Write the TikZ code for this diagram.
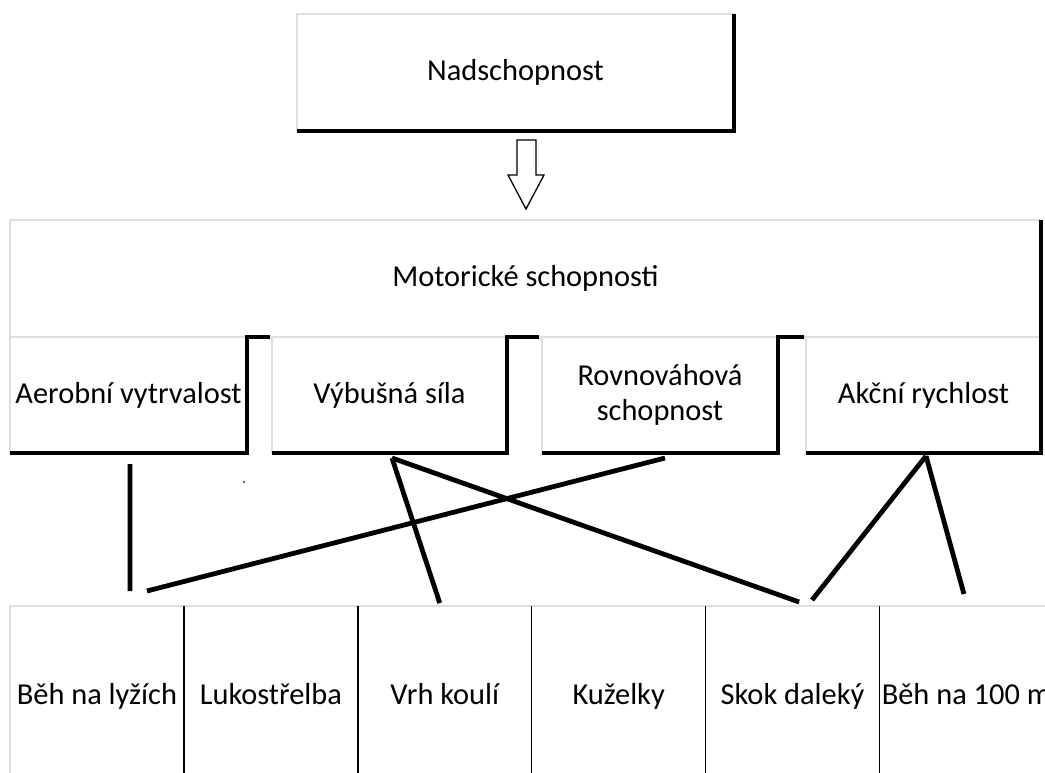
\documentclass[tikz,border=0pt]{standalone}
\usepackage{fontspec}
\setmainfont{Carlito}
\usetikzlibrary{positioning}

\begin{document}
\begin{tikzpicture}[
    x=1pt, y=-1pt,
    box/.style={
        rectangle, inner sep=0pt, outer sep=0pt,
        draw=gray!25, line width=1.2pt, fill=white,
        text height=21pt, text depth=5pt,
        align=center, font=\fontsize{30.4}{35}\selectfont
    },
    subbox/.style={box, anchor=north west, minimum height=116pt},
    sport/.style={box, minimum width=173.9pt, minimum height=180pt},
    blackedge/.style={line width=3.6pt, line join=miter},
    divider/.style={line width=1.4pt},
    hollow/.style={line width=1.3pt, fill=white, line join=miter},
    conn/.style={line width=4.8pt},
]

\path[use as bounding box, fill=white] (0,0) rectangle (1045,772);
\clip (0,0) rectangle (1045,772);

%% ---- TOP ----
\node[box, minimum width=437pt, minimum height=117pt] (nad) at (515.5,72.5) {Nadschopnost};

%% ---- MOTOR ABILITIES ----
\node[box, minimum width=1031pt, minimum height=117pt] (mot) at (525.5,278.5) {Motorické schopnosti};
\node[subbox, minimum width=237pt] (aer) at (10,337)  {Aerobní vytrvalost};
\node[subbox, minimum width=235pt] (vyb) at (272,337) {Výbušná síla};
\node[subbox, minimum width=236pt, text height=, text depth=] (rov) at (542,337) {Rovnováhová\\schopnost};
\node[subbox, minimum width=235pt] (akc) at (806,337) {Akční rychlost};

%% ---- SPORTS ----
\node[sport, anchor=north west] (c1) at (10,606) {Běh na lyžích};
\node[sport, right=0pt of c1] (c2) {Lukostřelba};
\node[sport, right=0pt of c2] (c3) {Vrh koulí};
\node[sport, right=0pt of c3] (c4) {Kuželky};
\node[sport, right=0pt of c4] (c5) {Skok daleký};
\node[sport, right=0pt of c5] (c6) {Běh na 100 m};

%% ---- BLACK EDGES ----
\draw[blackedge] (nad.north east) -- (nad.south east) -- (nad.south west);
\draw[blackedge] ([xshift=-2pt]vyb.north west) -- (aer.north east) -- (aer.south east) -- (aer.south west);
\draw[blackedge] ([xshift=-3pt]rov.north west) -- (vyb.north east) -- (vyb.south east) -- (vyb.south west);
\draw[blackedge] ([xshift=-2pt]akc.north west) -- (rov.north east) -- (rov.south east) -- (rov.south west);
\draw[blackedge] (mot.north east) -- (akc.south east) -- (akc.south west);

\draw[divider] (c1.north east) -- (c1.south east);
\draw[divider] (c2.north east) -- (c2.south east);
\draw[divider] (c3.north east) -- (c3.south east);
\draw[divider] (c4.north east) -- (c4.south east);
\draw[divider] (c5.north east) -- (c5.south east);

%% ---- HOLLOW ARROW ----
\draw[hollow] ([shift={(1.5,9)}]nad.south) -- ++(0,35) -- ++(-9,0) -- ++(18,34)
    -- ++(18,-34) -- ++(-8,0) -- ++(0,-35) -- cycle;

%% ---- CONNECTORS ----
\draw[conn] ([shift={(1.5,11)}]aer.south) -- ([shift={(33,-15)}]c1.north);
\draw[conn] ([shift={(5,5)}]rov.south)    -- ([shift={(50,-15)}]c1.north);
\draw[conn] ([shift={(2.5,5)}]vyb.south)  -- ([shift={(-5,-3)}]c3.north);
\draw[conn] ([shift={(2.5,5)}]vyb.south)  -- ([shift={(6.5,-4)}]c5.north);
\draw[conn] ([shift={(2.5,3)}]akc.south)  -- ([shift={(19.5,-6)}]c5.north);
\draw[conn] ([shift={(2.5,3)}]akc.south)  -- ([shift={(-2.5,-12)}]c6.north);

\fill[black!80] (244,482) circle (1.2pt);

\end{tikzpicture}
\end{document}
